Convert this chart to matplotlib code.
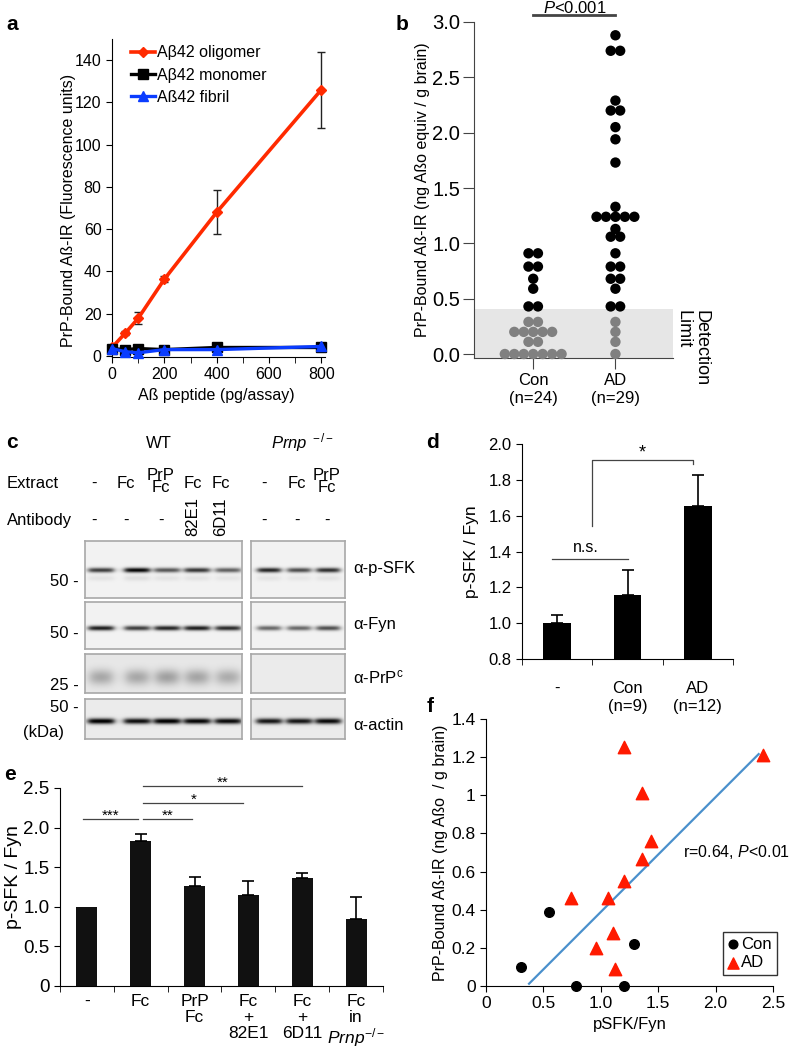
import numpy as np
import matplotlib.pyplot as plt
from matplotlib.ticker import MultipleLocator, FixedLocator

plt.rcParams['font.family'] = ['Liberation Sans', 'DejaVu Sans']
plt.rcParams['mathtext.fontset'] = 'custom'
plt.rcParams['mathtext.rm'] = 'Liberation Sans'
plt.rcParams['mathtext.it'] = 'Liberation Sans:italic'
plt.rcParams['mathtext.bf'] = 'Liberation Sans:bold'

# ---- panel a: binding curves
a_dose = [0, 50, 100, 200, 400, 800]
a_oligomer = [4, 10.7, 17.8, 36.3, 68, 126]
a_oligomer_err = [0.5, 1, 2.8, 1.5, 10.3, 18]
a_monomer = [3.5, 3, 3.5, 3, 4, 4]
a_fibril = [3.5, 2, 1.5, 3, 3, 4.5]

# ---- panel b: human brain extracts
b_con = [0.0, 0.0, 0.0, 0.0, 0.0, 0.0, 0.0, 0.11, 0.11, 0.2, 0.2, 0.2, 0.2, 0.2,
         0.29, 0.29, 0.43, 0.43, 0.59, 0.68, 0.79, 0.79, 0.91, 0.91]
b_ad = [0.0, 0.11, 0.2, 0.29, 0.43, 0.43, 0.59, 0.68, 0.68, 0.79, 0.79, 0.91,
        1.06, 1.06, 1.13, 1.24, 1.24, 1.24, 1.24, 1.24, 1.33, 1.73, 1.94, 2.05,
        2.2, 2.2, 2.29, 2.74, 2.74, 2.88]
b_limit = 0.41

# ---- panel c: blot band intensities (per lane)
c_wt_lanes = ['-', 'Fc', 'PrP\nFc', 'Fc', 'Fc']
c_wt_ab = ['-', '-', '-', '82E1', '6D11']
c_ko_lanes = ['-', 'Fc', 'PrP\nFc']
c_ko_ab = ['-', '-', '-']
psfk_wt = [0.72, 0.95, 0.62, 0.75, 0.58]
psfk_wt_low = [0.06, 0.08, 0.06, 0.06, 0.05]
psfk_ko = [0.82, 0.66, 0.78]
psfk_ko_low = [0.06, 0.05, 0.06]
fyn_wt = [0.85, 0.72, 0.82, 0.85, 0.8]
fyn_ko = [0.55, 0.55, 0.65]
prp_wt = [0.26, 0.26, 0.29, 0.27, 0.24]
prp_ko = [0.0, 0.0, 0.0]
actin_wt = [0.95, 0.88, 0.95, 0.92, 0.9]
actin_ko = [0.85, 0.85, 0.9]

# ---- panel d
d_labels = ['-', 'Con\n(n=9)', 'AD\n(n=12)']
d_vals = [1.0, 1.155, 1.655]
d_err = [0.045, 0.14, 0.17]

# ---- panel e
e_labels = ['-', 'Fc', 'PrP\nFc', 'Fc\n+\n82E1', 'Fc\n+\n6D11', 'Fc\nin\n$\\mathit{Prnp}^{-/-}$']
e_vals = [1.0, 1.83, 1.26, 1.15, 1.36, 0.84]
e_err = [0.0, 0.09, 0.12, 0.17, 0.065, 0.28]
e_sig_x0 = [-0.07, 1.05, 1.05, 1.05]
e_sig_x1 = [0.95, 1.95, 2.9, 4.0]
e_sig_y = [2.11, 2.11, 2.31, 2.52]
e_sig_txt = ['***', '**', '*', '**']

# ---- panel f
f_con_x = [0.305, 0.552, 0.785, 1.203, 1.29]
f_con_y = [0.1, 0.389, 0.0, 0.0, 0.219]
f_ad_x = [1.203, 1.358, 1.436, 1.358, 1.198, 1.067, 0.744, 1.105, 0.956, 1.128, 2.41]
f_ad_y = [1.253, 1.011, 0.762, 0.664, 0.552, 0.464, 0.464, 0.28, 0.2, 0.091, 1.21]
f_fit_x = [0.375, 2.375]
f_fit_y = [0.012, 1.216]

W, H = 789, 1050
fig = plt.figure(figsize=(W / 100, H / 100), dpi=100)


def rect(x0, y0, x1, y1):
    return [x0 / W, 1 - y1 / H, (x1 - x0) / W, (y1 - y0) / H]


def ftext(x, y, s, **kw):
    kw.setdefault('ha', 'center')
    kw.setdefault('va', 'center')
    fig.text(x / W, 1 - y / H, s, **kw)


def clean(ax):
    ax.spines['top'].set_visible(False)
    ax.spines['right'].set_visible(False)


for lab, x, y in [('a', 12, 24), ('b', 402, 24), ('c', 12, 443), ('d', 433, 443),
                  ('e', 10, 775), ('f', 430, 707)]:
    ftext(x, y, lab, fontsize=15, fontweight='bold')

# ================= a
ax = fig.add_axes(rect(112, 39, 325, 357))
clean(ax)
ax.errorbar(a_dose, a_oligomer, yerr=a_oligomer_err, fmt='none', ecolor='#222222',
            elinewidth=1, capsize=3, zorder=2)
ax.plot(a_dose, a_oligomer, color='#ff2a00', lw=2.6, marker='D', ms=5,
        label='Aβ42 oligomer', zorder=3, clip_on=False)
ax.plot(a_dose, a_monomer, color='black', lw=2.4, marker='s', ms=7,
        label='Aβ42 monomer', zorder=3, clip_on=False)
ax.plot(a_dose, a_fibril, color='#0a3cff', lw=2.4, marker='^', ms=7,
        label='Aß42 fibril', zorder=4, clip_on=False)
ax.set_xlim(0, 814)
ax.set_ylim(-0.5, 150)
ax.set_xticks([0, 200, 400, 600, 800])
ax.xaxis.set_minor_locator(MultipleLocator(100))
ax.set_yticks(range(0, 141, 20))
ax.tick_params(which='both', direction='out', length=4, labelsize=11.5)
ax.set_ylabel('PrP-Bound Aß-IR (Fluorescence units)', fontsize=11.5, va='center')
ax.yaxis.set_label_coords(-0.205, 0.46)
ax.set_xlabel('Aß peptide (pg/assay)', fontsize=11.5, va='center')
ax.xaxis.set_label_coords(0.49, -0.12)
ax.legend(loc='upper left', bbox_to_anchor=(0.06, 1.0), frameon=False, fontsize=11.5,
          handlelength=1.5, handletextpad=0.1, labelspacing=0.45, borderaxespad=0)

# ================= b
ax = fig.add_axes(rect(474, 22, 673, 358))
clean(ax)
for s in ['left', 'bottom']:
    ax.spines[s].set_color('#444444')
ax.set_xlim(0.28, 2.70)
ax.set_ylim(-0.036, 3.0)
ax.axhspan(-0.036, b_limit, color='#e6e6e6', zorder=0, lw=0)


def swarm(vals, step):
    xs = []
    for i, v in enumerate(vals):
        n = vals.count(v)
        k = vals[:i].count(v)
        xs.append((k - (n - 1) / 2) * step)
    return np.array(xs)


for pos, vals in [(1, b_con), (2, b_ad)]:
    v = np.array(vals)
    xs = pos + swarm(vals, 0.115)
    cols = np.where(v < b_limit, '#808080', 'black')
    ax.scatter(xs, v, s=56, c=cols, edgecolors='none', zorder=3, clip_on=False)
ax.set_yticks([0, 0.5, 1.0, 1.5, 2.0, 2.5, 3.0])
ax.set_yticklabels(['0.0', '0.5', '1.0', '1.5', '2.0', '2.5', '3.0'])
ax.set_xticks([1, 2])
ax.set_xticklabels(['Con\n(n=24)', 'AD\n(n=29)'], fontsize=12, linespacing=1.25)
ax.tick_params(axis='y', direction='out', length=8, labelsize=14.5, color='#444444',
               pad=2)
ax.tick_params(axis='x', direction='out', length=8, pad=3, color='#444444')
ax.set_ylabel('PrP-Bound Aß-IR (ng Aßo equiv / g brain)', fontsize=11.5, va='center')
ax.yaxis.set_label_coords(-0.26, 0.5)
ax.plot([1, 2], [3.065, 3.065], color='#444444', lw=2, clip_on=False)
ax.text(1.5, 3.125, '$\\mathit{P}$<0.001', ha='center', va='center', fontsize=12)
ftext(692, 310, 'Detection\nLimit', rotation=-90, va='top', fontsize=13,
      multialignment='left', linespacing=1.0)

# ================= c (western blots)
ftext(159, 443, 'WT', fontsize=12)
ftext(303, 443, '$\\mathit{Prnp}^{\\ -/-}$', fontsize=12)
ftext(7, 483, 'Extract', ha='left', fontsize=12)
ftext(7, 520, 'Antibody', ha='left', fontsize=12)
wt_x = [94, 126, 161, 193, 221]
ko_x = [264, 297, 327]
for xs, ext, abl in [(wt_x, c_wt_lanes, c_wt_ab), (ko_x, c_ko_lanes, c_ko_ab)]:
    for x, e, a in zip(xs, ext, abl):
        if '\n' in e:
            ftext(x, 482, e, fontsize=12, linespacing=0.75)
        else:
            ftext(x, 483, e, fontsize=12)
        if a == '-':
            ftext(x, 520, a, fontsize=12)
        else:
            ftext(x, 517, a, fontsize=12, rotation=90)


def blot(box, lanes, half, bands, bg=0.95, edge=1.8):
    x0, y0, x1, y1 = box
    w, h = x1 - x0, y1 - y0
    sc = 3
    yy, xx = np.mgrid[0:h * sc, 0:w * sc] / sc
    img = np.full(xx.shape, bg)
    for yc, sy, vals in bands:
        for xc, v in zip(lanes, vals):
            px = 1 / (1 + np.exp((np.abs(xx - xc) - half) / edge))
            py = np.exp(-0.5 * ((yy - yc) / sy) ** 2)
            img -= v * px * py
    bx = fig.add_axes(rect(*box))
    bx.imshow(np.clip(img, 0, 1), cmap='gray', vmin=0, vmax=1, extent=(0, w, h, 0),
              aspect='auto', interpolation='bilinear')
    bx.set_xticks([])
    bx.set_yticks([])
    for s in bx.spines.values():
        s.set_color('#a8a8a8')
        s.set_linewidth(1.2)


wt_l = [16, 52, 82, 112, 143]
ko_l = [18, 48, 77]
blot((85, 541, 242, 598), wt_l, 12.5, [(29, 1.7, psfk_wt), (37, 2.0, psfk_wt_low)])
blot((251, 541, 345, 598), ko_l, 11.5, [(29, 1.7, psfk_ko), (37, 2.0, psfk_ko_low)])
blot((85, 602, 242, 649), wt_l, 12.5, [(26, 1.7, fyn_wt)])
blot((251, 602, 345, 649), ko_l, 11.5, [(26, 1.7, fyn_ko)])
blot((85, 654, 242, 693), wt_l, 11, [(23, 5.5, prp_wt)], bg=0.91, edge=3)
blot((251, 654, 345, 693), ko_l, 12, [(22, 4.5, prp_ko)], bg=0.92)
blot((85, 699, 242, 739), wt_l, 13, [(22, 2.0, actin_wt)], bg=0.92)
blot((251, 699, 345, 739), ko_l, 12.5, [(22, 2.0, actin_ko)], bg=0.92)

for y, s in [(581, '50 -'), (633, '50 -'), (686, '25 -'), (707, '50 -')]:
    ftext(79, y, s, ha='right', fontsize=12)
ftext(44, 732, '(kDa)', fontsize=12)
for y, s in [(569, 'α-p-SFK'), (624, 'α-Fyn'), (677, 'α-PrP$^{\\mathrm{c}}$'), (725, 'α-actin')]:
    ftext(353, y, s, ha='left', fontsize=12)

# ================= d
ax = fig.add_axes(rect(522, 444, 733, 659))
clean(ax)
x = np.arange(len(d_vals))
ax.bar(x, d_vals, width=0.39, color='black', bottom=0, zorder=2)
ax.errorbar(x, d_vals, yerr=[[0] * 3, d_err], fmt='none', ecolor='black',
            elinewidth=1.2, capsize=4, capthick=1.2, zorder=3)
ax.set_xlim(-0.5, 2.5)
ax.set_ylim(0.8, 2.0)
ax.set_yticks([0.8, 1.0, 1.2, 1.4, 1.6, 1.8, 2.0])
ax.set_yticklabels(['0.8', '1.0', '1.2', '1.4', '1.6', '1.8', '2.0'])
ax.set_xticks(x)
ax.set_xticklabels(d_labels, fontsize=12, linespacing=1.25)
ax.xaxis.set_minor_locator(FixedLocator([-0.5, 0.5, 1.5, 2.5]))
ax.tick_params(axis='x', which='major', length=0, pad=16)
ax.tick_params(axis='x', which='minor', length=4, direction='out')
ax.tick_params(axis='y', length=4, direction='out', labelsize=12)
ax.set_ylabel('p-SFK / Fyn', fontsize=12.5, va='center')
ax.yaxis.set_label_coords(-0.24, 0.5)
ax.plot([-0.07, 1.0], [1.36, 1.36], color='#444444', lw=0.9)
ax.text(0.41, 1.425, 'n.s.', ha='center', va='center', fontsize=11.5)
ax.plot([0.49, 0.49, 1.93, 1.93], [1.543, 1.908, 1.908, 1.89], color='#444444', lw=0.9)
ax.text(1.21, 1.95, '*', ha='center', va='center', fontsize=13)

# ================= e
ax = fig.add_axes(rect(60, 788, 383, 986))
clean(ax)
x = np.arange(len(e_vals))
ax.bar(x, e_vals, width=0.39, color='#111111', zorder=2)
ax.errorbar(x[1:], e_vals[1:], yerr=[[0] * 5, e_err[1:]], fmt='none', ecolor='black',
            elinewidth=1.2, capsize=4, capthick=1.2, zorder=3)
ax.set_xlim(-0.5, 5.5)
ax.set_ylim(0, 2.5)
ax.set_yticks([0, 0.5, 1.0, 1.5, 2.0, 2.5])
ax.set_yticklabels(['0', '0.5', '1.0', '1.5', '2.0', '2.5'])
ax.set_xticks(x)
ax.set_xticklabels(e_labels, fontsize=12.5, linespacing=1.05, va='top')
ax.xaxis.set_minor_locator(FixedLocator([-0.5, 0.5, 1.5, 2.5, 3.5, 4.5, 5.5]))
ax.tick_params(axis='x', which='major', length=0, pad=6)
ax.tick_params(axis='x', which='minor', length=4, direction='out')
ax.tick_params(axis='y', length=4, direction='out', labelsize=13.5)
ax.set_ylabel('p-SFK / Fyn', fontsize=14, va='center')
ax.yaxis.set_label_coords(-0.145, 0.55)
for x0, x1, y, t in zip(e_sig_x0, e_sig_x1, e_sig_y, e_sig_txt):
    ax.plot([x0, x1], [y, y], color='#444444', lw=0.9, clip_on=False)
    ax.text((x0 + x1) / 2, y + 0.045, t, ha='center', va='center', fontsize=11)

# ================= f
ax = fig.add_axes(rect(486, 719, 773, 986))
clean(ax)
ax.plot(f_fit_x, f_fit_y, color='#4a90cc', lw=1.6, zorder=2)
ax.scatter(f_con_x, f_con_y, s=48, color='black', label='Con', zorder=3, clip_on=False)
ax.scatter(f_ad_x, f_ad_y, s=80, marker='^', color='#ff1a00', label='AD', zorder=3,
           clip_on=False)
ax.set_xlim(0, 2.5)
ax.set_ylim(0, 1.4)
ax.set_xticks([0, 0.5, 1.0, 1.5, 2.0, 2.5])
ax.set_xticklabels(['0', '0.5', '1.0', '1.5', '2.0', '2.5'])
ax.set_yticks([0, 0.2, 0.4, 0.6, 0.8, 1.0, 1.2, 1.4])
ax.set_yticklabels(['0', '0.2', '0.4', '0.6', '0.8', '1', '1.2', '1.4'])
ax.tick_params(direction='out', length=4, labelsize=12.5)
ax.set_xlabel('pSFK/Fyn', fontsize=12, va='center')
ax.xaxis.set_label_coords(0.5, -0.146)
ax.set_ylabel('PrP-Bound Aß-IR (ng Aßo  / g brain)', fontsize=11.5, va='center')
ax.yaxis.set_label_coords(-0.16, 0.5)
ftext(683, 852, 'r=0.64, $\\mathit{P}$<0.01', ha='left', fontsize=11.5)
lg = ax.legend(loc='lower right', bbox_to_anchor=(1.014, 0.041), fontsize=12,
               frameon=True, fancybox=False, edgecolor='black', handlelength=0.6,
               handletextpad=0.2, borderpad=0.3, labelspacing=0.2, borderaxespad=0,
               markerscale=0.9)
lg.get_frame().set_linewidth(1.0)

fig.savefig('out.png', dpi=100)
